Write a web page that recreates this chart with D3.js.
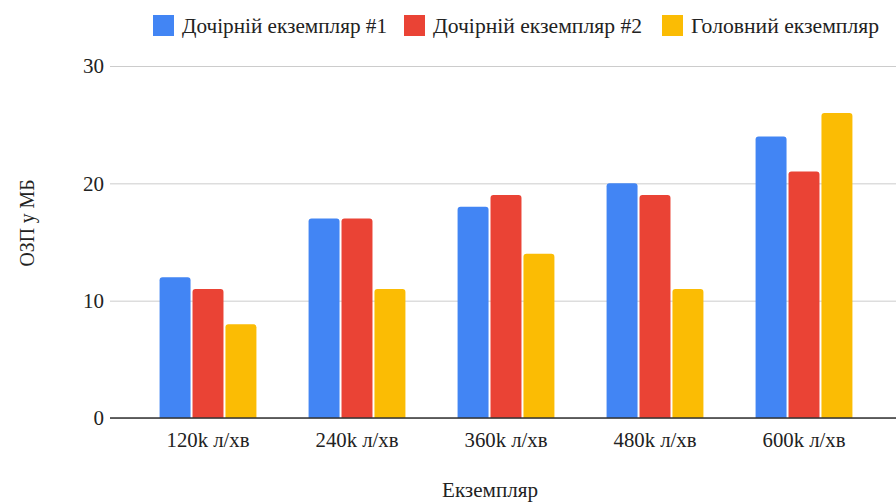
<!DOCTYPE html>
<html>
<head>
<meta charset="utf-8">
<script src="https://cdn.jsdelivr.net/npm/d3@7"></script>
<style>
  body { margin: 0; background: #fff; }
</style>
</head>
<body>
<script>
let categories = ['120k л/хв', '240k л/хв', '360k л/хв', '480k л/хв', '600k л/хв']
let seriesNames = ['Дочірній екземпляр #1', 'Дочірній екземпляр #2', 'Головний екземпляр']
let child1 = [12, 17, 18, 20, 24]
let child2 = [11, 17, 19, 19, 21]
let mainInst = [8, 11, 14, 11, 26]
let yTicks = [0, 10, 20, 30]

let colors = ['#4285f4', '#ea4335', '#fbbc04']
let values = [child1, child2, mainInst]
let FONT = "'Liberation Serif', 'DejaVu Serif Condensed', 'DejaVu Serif', serif"

let W = 896, H = 503
let svg = d3.select('body').append('svg')
    .attr('width', W)
    .attr('height', H)

let x = d3.scaleBand()
    .domain(categories)
    .range([133.5, 878.5])
    .paddingInner(0.35)
    .paddingOuter(0.175)

let xs = d3.scaleBand()
    .domain(d3.range(3))
    .range([0, x.bandwidth()])
    .paddingInner(0.06)

let y = d3.scaleLinear()
    .domain([0, 30])
    .range([418, 66])

// grid
let yAxis = d3.axisLeft(y).tickValues(yTicks).tickSize(-(W - 110)).tickPadding(6)
let ga = svg.append('g').attr('transform', 'translate(110,0)').call(yAxis)
    .attr('font-family', FONT)
ga.select('.domain').remove()
ga.selectAll('.tick line').attr('stroke', '#cccccc').attr('stroke-width', 1)
ga.selectAll('.tick text').attr('font-size', 21).attr('fill', '#222').attr('dy', '0.33em')

// bars with rounded tops
let barPath = (x0, y0, w, h) => {
    let r = Math.min(3, h)
    return `M${x0},${y0 + h}V${y0 + r}Q${x0},${y0} ${x0 + r},${y0}H${x0 + w - r}Q${x0 + w},${y0} ${x0 + w},${y0 + r}V${y0 + h}Z`
}

values.forEach((arr, s) => {
    svg.append('g').selectAll('path')
        .data(arr)
        .join('path')
        .attr('fill', colors[s])
        .attr('d', (d, i) => {
            let bx = x(categories[i]) + xs(s)
            return barPath(bx, y(d), xs.bandwidth(), y(0) - y(d))
        })
})

// baseline
svg.append('line')
    .attr('x1', 110).attr('x2', W)
    .attr('y1', y(0)).attr('y2', y(0))
    .attr('stroke', '#333').attr('stroke-width', 1.5)

// x labels
let xAxis = d3.axisBottom(x).tickSize(0).tickPadding(14)
let gx = svg.append('g').attr('transform', `translate(0,${y(0)})`).call(xAxis)
    .attr('font-family', FONT)
gx.select('.domain').remove()
gx.selectAll('.tick text').attr('font-size', 21).attr('fill', '#222')
    .attr('textLength', 83).attr('lengthAdjust', 'spacingAndGlyphs')

// axis titles
svg.append('text')
    .attr('x', 490).attr('y', 497)
    .attr('text-anchor', 'middle')
    .attr('font-family', FONT).attr('font-size', 21).attr('fill', '#222')
    .attr('textLength', 96).attr('lengthAdjust', 'spacingAndGlyphs')
    .text('Екземпляр')

svg.append('text')
    .attr('transform', 'translate(34,223) rotate(-90)')
    .attr('text-anchor', 'middle')
    .attr('font-family', FONT).attr('font-size', 21).attr('fill', '#222')
    .attr('textLength', 87).attr('lengthAdjust', 'spacingAndGlyphs')
    .text('ОЗП у МБ')

// legend
let legendX = [153, 404, 662]
let legendW = [205, 209, 188]
let legend = svg.append('g')
seriesNames.forEach((name, i) => {
    legend.append('rect')
        .attr('x', legendX[i]).attr('y', 15)
        .attr('width', 21).attr('height', 21)
        .attr('fill', colors[i])
    legend.append('text')
        .attr('x', legendX[i] + 29).attr('y', 33)
        .attr('font-family', FONT).attr('font-size', 22).attr('fill', '#222')
        .attr('textLength', legendW[i]).attr('lengthAdjust', 'spacingAndGlyphs')
        .text(name)
})
</script>
</body>
</html>
